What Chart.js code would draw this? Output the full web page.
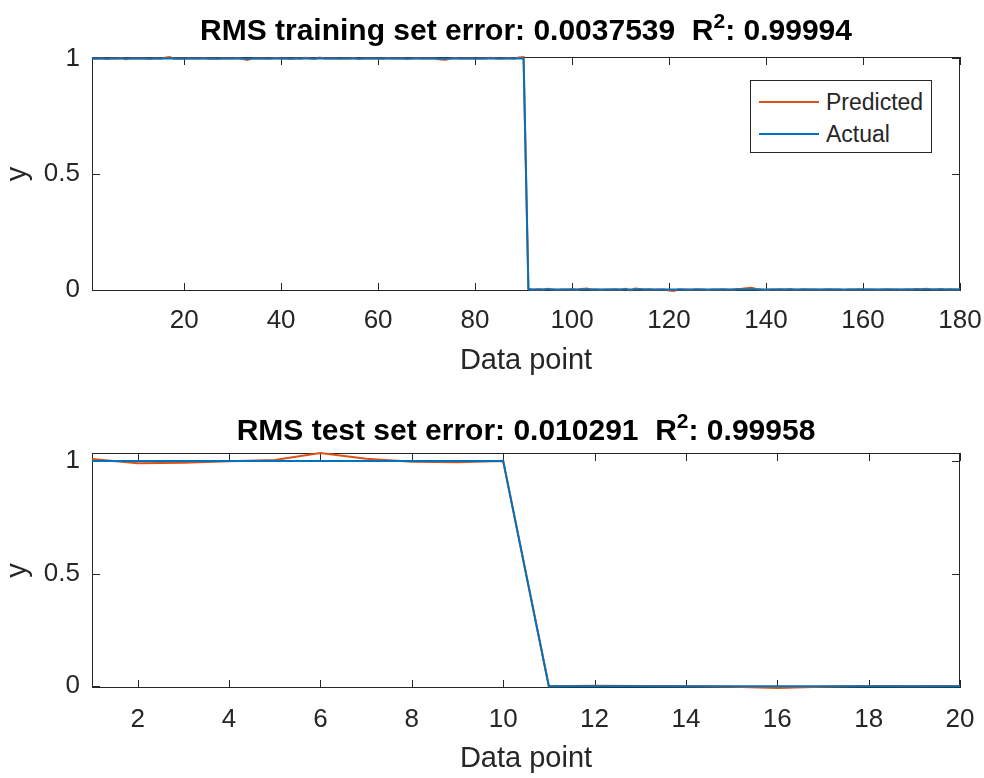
<!DOCTYPE html>
<html>
<head>
<meta charset="utf-8">
<script src="https://cdn.jsdelivr.net/npm/chart.js@4.4.1/dist/chart.umd.min.js"></script>
<style>
  body { margin: 0; background: #fff; font-family: "Liberation Sans", Arial, sans-serif; }
  #wrap { position: relative; width: 984px; height: 778px; overflow: hidden; }
  canvas { position: absolute; left: 0; }
  .title { position: absolute; left: 92px; width: 868px; text-align: center; font-weight: bold;
           font-size: 30px; line-height: 30px; color: #000; white-space: pre; }
  .title sup { font-size: 21px; line-height: 0; vertical-align: 12px; }
  #legend { position: absolute; left: 750px; top: 80px; width: 182px; height: 73px; box-sizing: border-box;
            border: 1px solid #262626; background: #fff; }
  .item { position: absolute; left: 0; height: 30px; width: 180px; }
  .item span.ln { position: absolute; left: 8px; width: 60px; height: 2px; top: 14px; }
  .item span.tx { position: absolute; left: 75px; top: 2px; font-size: 23px; line-height: 26px; color: #262626; }
</style>
</head>
<body>
<div id="wrap">
  <canvas id="trainChart" width="984" height="389" style="top:0"></canvas>
  <canvas id="testChart" width="984" height="389" style="top:389px"></canvas>
  <div class="title" style="top:15px">RMS training set error: 0.0037539  R<sup>2</sup>: 0.99994</div>
  <div class="title" style="top:415px">RMS test set error: 0.010291  R<sup>2</sup>: 0.99958</div>
  <div id="legend">
    <div class="item" style="top:6px"><span class="ln" style="background:#D95319"></span><span class="tx">Predicted</span></div>
    <div class="item" style="top:38px"><span class="ln" style="background:#0072BD"></span><span class="tx">Actual</span></div>
  </div>
</div>
<script>
// Training set (data points 1..180)
const trainActual = [
  1, 1, 1, 1, 1, 1, 1, 1, 1, 1,
  1, 1, 1, 1, 1, 1, 1, 1, 1, 1,
  1, 1, 1, 1, 1, 1, 1, 1, 1, 1,
  1, 1, 1, 1, 1, 1, 1, 1, 1, 1,
  1, 1, 1, 1, 1, 1, 1, 1, 1, 1,
  1, 1, 1, 1, 1, 1, 1, 1, 1, 1,
  1, 1, 1, 1, 1, 1, 1, 1, 1, 1,
  1, 1, 1, 1, 1, 1, 1, 1, 1, 1,
  1, 1, 1, 1, 1, 1, 1, 1, 1, 1,
  0, 0, 0, 0, 0, 0, 0, 0, 0, 0,
  0, 0, 0, 0, 0, 0, 0, 0, 0, 0,
  0, 0, 0, 0, 0, 0, 0, 0, 0, 0,
  0, 0, 0, 0, 0, 0, 0, 0, 0, 0,
  0, 0, 0, 0, 0, 0, 0, 0, 0, 0,
  0, 0, 0, 0, 0, 0, 0, 0, 0, 0,
  0, 0, 0, 0, 0, 0, 0, 0, 0, 0,
  0, 0, 0, 0, 0, 0, 0, 0, 0, 0,
  0, 0, 0, 0, 0, 0, 0, 0, 0, 0
];
const trainPredicted = [
  1.000, 0.998, 1.001, 0.997, 1.000, 0.999, 1.002, 0.996, 1.000, 1.001,
  0.999, 1.000, 0.997, 1.001, 0.998, 1.003, 1.006, 0.999, 1.000, 0.998,
  1.001, 1.000, 0.999, 1.002, 0.998, 1.000, 0.997, 1.001, 1.000, 0.999,
  1.002, 0.998, 0.993, 0.999, 1.000, 1.001, 0.998, 1.000, 1.002, 0.999,
  1.000, 0.997, 1.001, 0.999, 1.003, 1.000, 0.998, 1.004, 0.999, 1.000,
  1.001, 0.998, 1.000, 0.999, 1.002, 0.997, 1.000, 1.001, 0.999, 1.000,
  0.998, 1.002, 1.000, 0.999, 1.001, 0.997, 1.000, 1.002, 0.999, 1.000,
  1.001, 0.998, 0.995, 0.994, 1.000, 1.002, 0.999, 1.000, 1.001, 0.998,
  1.000, 0.999, 1.003, 1.001, 0.998, 1.000, 1.002, 0.999, 1.004, 1.006,
  0.003, -0.001, 0.002, 0.000, 0.004, 0.001, -0.002, 0.001, 0.000, 0.002,
  -0.001, 0.003, 0.005, 0.001, 0.000, -0.002, 0.001, 0.000, 0.002, -0.001,
  0.004, -0.004, 0.005, 0.003, 0.000, 0.002, -0.001, 0.001, 0.000, -0.004,
  -0.006, 0.002, 0.001, -0.001, 0.000, 0.002, 0.001, -0.002, 0.000, 0.001,
  0.002, 0.000, -0.001, 0.003, 0.004, 0.006, 0.008, 0.003, 0.000, -0.002,
  0.001, 0.000, 0.002, 0.001, 0.003, -0.001, 0.000, 0.002, 0.001, 0.000,
  -0.001, 0.001, 0.002, 0.000, 0.001, -0.002, 0.000, 0.001, 0.002, 0.000,
  0.001, 0.000, -0.001, 0.001, 0.002, 0.000, 0.001, -0.001, 0.002, 0.001,
  0.003, 0.002, 0.004, 0.002, 0.001, 0.003, 0.000, 0.002, 0.001, 0.000
];
const trainXTicks = [20, 40, 60, 80, 100, 120, 140, 160, 180];

// Test set (data points 1..20)
const testActual = [1, 1, 1, 1, 1, 1, 1, 1, 1, 1, 0, 0, 0, 0, 0, 0, 0, 0, 0, 0];
const testPredicted = [1.008, 0.990, 0.992, 0.998, 1.004, 1.035, 1.010, 0.996, 0.994, 1.000,
                       0.000, 0.002, 0.001, 0.000, -0.002, -0.008, -0.002, 0.001, 0.000, 0.001];
const testXTicks = [2, 4, 6, 8, 10, 12, 14, 16, 18, 20];

const yTicks = [0, 0.5, 1];

const AXIS_COLOR = '#262626';
Chart.defaults.font.family = '"Liberation Sans", Arial, sans-serif';
Chart.defaults.color = AXIS_COLOR;

// box around the plot with inward ticks on all four sides (MATLAB style)
const boxPlugin = {
  id: 'boxPlugin',
  beforeDatasetsDraw(chart) {
    const { ctx, chartArea: a, scales: { x, y } } = chart;
    const len = 8;
    ctx.save();
    ctx.strokeStyle = AXIS_COLOR;
    ctx.lineWidth = 1;
    ctx.strokeRect(a.left + 0.5, a.top + 0.5, a.width - 1, a.height - 1);
    ctx.beginPath();
    x.ticks.forEach(t => {
      const px = Math.round(x.getPixelForValue(t.value)) + 0.5;
      ctx.moveTo(px, a.bottom); ctx.lineTo(px, a.bottom - len);
      ctx.moveTo(px, a.top); ctx.lineTo(px, a.top + len);
    });
    y.ticks.forEach(t => {
      const py = Math.round(y.getPixelForValue(t.value)) + 0.5;
      ctx.moveTo(a.left, py); ctx.lineTo(a.left + len, py);
      ctx.moveTo(a.right, py); ctx.lineTo(a.right - len, py);
    });
    ctx.stroke();
    ctx.restore();
  }
};

function toPoints(values) {
  return values.map((v, i) => ({ x: i + 1, y: v }));
}

function makeChart(id, actual, predicted, xTicks, cfg) {
  new Chart(document.getElementById(id), {
    type: 'line',
    data: {
      datasets: [
        { label: 'Predicted', data: toPoints(predicted), borderColor: '#D95319', order: 1 },
        { label: 'Actual', data: toPoints(actual), borderColor: '#0072BD', order: 0 }
      ]
    },
    options: {
      responsive: false,
      animation: false,
      layout: { padding: { top: cfg.top, right: 24, left: 0, bottom: 0 } },
      elements: {
        line: { borderWidth: 2, tension: 0 },
        point: { radius: 0 }
      },
      datasets: { line: { clip: 4 } },
      plugins: { legend: { display: false }, title: { display: false }, tooltip: { enabled: false } },
      scales: {
        x: {
          type: 'linear',
          min: 1,
          max: actual.length,
          afterBuildTicks: s => { s.ticks = xTicks.map(v => ({ value: v })); },
          afterFit: s => { s.height = cfg.xHeight; s.paddingLeft = 0; s.paddingRight = 0; },
          grid: { display: false, drawTicks: false },
          border: { display: false },
          ticks: { font: { size: 26 }, color: AXIS_COLOR, padding: cfg.tickPad, maxRotation: 0, autoSkip: false },
          title: { display: true, text: 'Data point', font: { size: 29 }, color: AXIS_COLOR,
                   padding: { top: 0, bottom: cfg.titlePad } }
        },
        y: {
          min: cfg.yMin,
          max: cfg.yMax,
          afterBuildTicks: s => { s.ticks = yTicks.map(v => ({ value: v })); },
          afterFit: s => { s.width = 92; s.paddingTop = 0; s.paddingBottom = 0; },
          grid: { display: false, drawTicks: false },
          border: { display: false },
          ticks: { font: { size: 26 }, color: AXIS_COLOR, padding: 12, callback: v => String(v) },
          title: { display: true, text: 'y', font: { size: 29 }, color: AXIS_COLOR, padding: { top: 1, bottom: 0 } }
        }
      }
    },
    plugins: [boxPlugin]
  });
}

makeChart('trainChart', trainActual, trainPredicted, trainXTicks,
  { top: 57, xHeight: 98, tickPad: 14, titlePad: 11, yMin: -0.006, yMax: 1.006 });
makeChart('testChart', testActual, testPredicted, testXTicks,
  { top: 64, xHeight: 90, tickPad: 16, titlePad: 2, yMin: -0.008, yMax: 1.035 });
</script>
</body>
</html>
